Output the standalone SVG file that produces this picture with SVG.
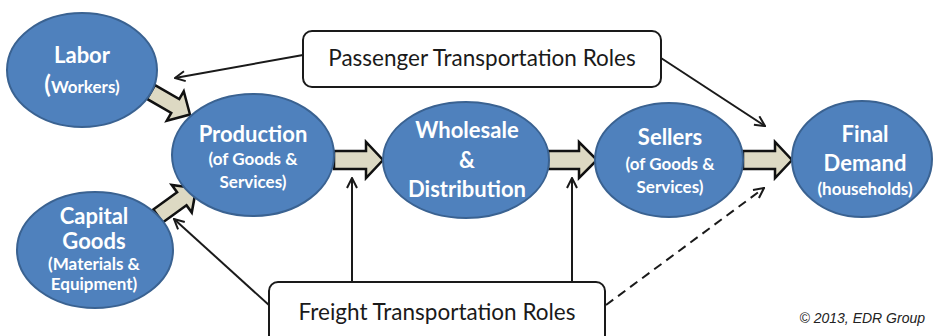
<svg xmlns="http://www.w3.org/2000/svg" width="933" height="336" viewBox="0 0 933 336">
  <style>
    .node { fill: #4F81BD; stroke: #3A6291; stroke-width: 2; }
    .big { font-family: Lato, "Open Sans", "Liberation Sans", sans-serif; font-weight: bold; font-size: 22px; fill: #ffffff; text-anchor: middle; }
    .small { font-family: Lato, "Open Sans", "Liberation Sans", sans-serif; font-weight: bold; font-size: 17px; fill: #ffffff; text-anchor: middle; }
    .box { fill: #ffffff; stroke: #1a1a1a; stroke-width: 2; }
    .boxtext { font-family: Lato, "Open Sans", "Liberation Sans", sans-serif; font-size: 22.5px; fill: #1a1a1a; text-anchor: middle; }
    .flow { fill: #DDD9C3; stroke: #111111; stroke-width: 2.5; stroke-linejoin: miter; }
    .link { fill: none; stroke: #1a1a1a; stroke-width: 2; }
    .dash { stroke-dasharray: 9 6; }
    .credit { font-family: "Liberation Sans", Arial, sans-serif; font-style: italic; font-size: 14px; fill: #222222; text-anchor: end; }
  </style>
  <defs>
    <marker id="open" viewBox="0 0 12 12" refX="11" refY="6" markerWidth="12" markerHeight="12" markerUnits="userSpaceOnUse" orient="auto">
      <path d="M1,1 L11,6 L1,11" fill="none" stroke="#1a1a1a" stroke-width="2"/>
    </marker>
    <!-- block arrow, 45 long, tail at origin pointing along +x -->
    <path id="block45" d="M0,-8 L28,-8 L28,-17 L45,0 L28,17 L28,8 L0,8 Z"/>
  </defs>

  <rect width="933" height="336" fill="#ffffff"/>

  <!-- flow arrows and role connectors -->
  <g id="connectors">
    <use href="#block45" class="flow" transform="translate(151,92) rotate(30)"/>
    <use href="#block45" class="flow" transform="translate(158,216) rotate(-36) scale(1.05,1)"/>
    <path class="flow" d="M334,151 L366,151 L366,142 L383,160 L366,178 L366,169 L334,169 Z"/>
    <path class="flow" d="M548,151 L579,151 L579,142 L597,160 L579,178 L579,169 L548,169 Z"/>
    <path class="flow" d="M743,151 L775,151 L775,142 L792,160 L775,178 L775,169 L743,169 Z"/>

    <line class="link" x1="303" y1="55" x2="175" y2="78" marker-end="url(#open)"/>
    <line class="link" x1="661" y1="58" x2="765" y2="126" marker-end="url(#open)"/>
    <line class="link" x1="270" y1="306" x2="174" y2="219" marker-end="url(#open)"/>
    <line class="link" x1="352" y1="282" x2="352" y2="178" marker-end="url(#open)"/>
    <line class="link" x1="572" y1="282" x2="572" y2="178" marker-end="url(#open)"/>
    <line class="link dash" x1="606" y1="305" x2="764" y2="188" marker-end="url(#open)"/>
  </g>

  <g id="labor">
    <ellipse class="node" cx="82" cy="70" rx="75" ry="57"/>
    <text class="big" x="82" y="63">Labor</text>
    <text class="small" x="82" y="93"><tspan font-size="24">(</tspan>Workers)</text>
  </g>

  <g id="capital-goods">
    <ellipse class="node" cx="95" cy="250" rx="78" ry="58"/>
    <text class="big" x="94" y="224" font-size="21">Capital</text>
    <text class="big" x="94" y="249" font-size="21">Goods</text>
    <text class="small" x="94" y="270">(Materials &amp;</text>
    <text class="small" x="94" y="290">Equipment)</text>
  </g>

  <g id="production">
    <ellipse class="node" cx="253" cy="155" rx="81" ry="61"/>
    <text class="big" x="253" y="142">Production</text>
    <text class="small" x="253" y="165">(of Goods &amp;</text>
    <text class="small" x="253" y="188">Services)</text>
  </g>

  <g id="wholesale">
    <ellipse class="node" cx="466" cy="160" rx="83" ry="58"/>
    <text class="big" x="467" y="138">Wholesale</text>
    <text class="big" x="467" y="168">&amp;</text>
    <text class="big" x="467" y="197">Distribution</text>
  </g>

  <g id="sellers">
    <ellipse class="node" cx="669" cy="160" rx="74" ry="57"/>
    <text class="big" x="670" y="145">Sellers</text>
    <text class="small" x="670" y="170">(of Goods &amp;</text>
    <text class="small" x="670" y="193">Services)</text>
  </g>

  <g id="final-demand">
    <ellipse class="node" cx="862" cy="159" rx="70" ry="58"/>
    <text class="big" x="865" y="142">Final</text>
    <text class="big" x="865" y="171">Demand</text>
    <text class="small" x="865" y="195">(households)</text>
  </g>

  <g id="passenger-roles">
    <rect class="box" x="303" y="31" width="358" height="56" rx="9"/>
    <text class="boxtext" x="482" y="66">Passenger Transportation Roles</text>
  </g>

  <g id="freight-roles">
    <rect class="box" x="269" y="282" width="336" height="64" rx="9"/>
    <text class="boxtext" x="437" y="320">Freight Transportation Roles</text>
  </g>

  <text class="credit" x="925" y="323">© 2013, EDR Group</text>
</svg>
